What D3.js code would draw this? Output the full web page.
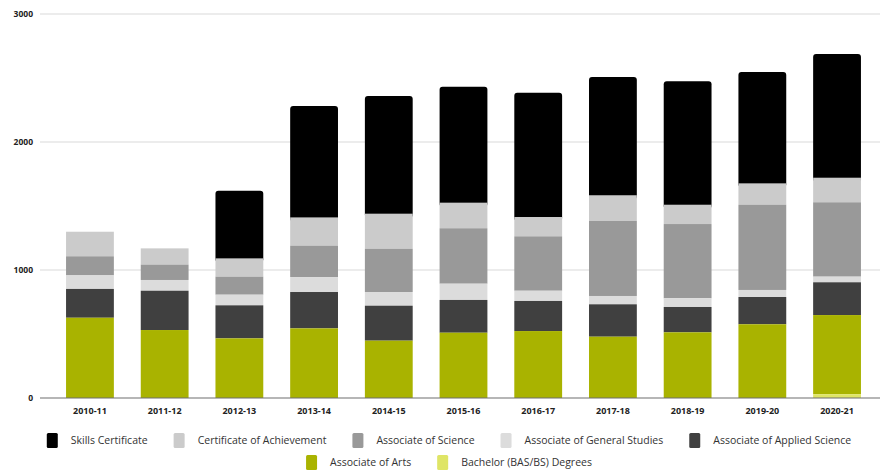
<!DOCTYPE html>
<html>
<head>
<meta charset="utf-8">
<script src="https://cdn.jsdelivr.net/npm/d3@7"></script>
<style>
  body { margin: 0; background: #fff; }
  svg { display: block; font-family: "Open Sans", sans-serif; }
</style>
</head>
<body>
<div id="chart"></div>
<script>
var years = ['2010-11', '2011-12', '2012-13', '2013-14', '2014-15', '2015-16',
             '2016-17', '2017-18', '2018-19', '2019-20', '2020-21'];

// bottom to top
var seriesNames = ['Bachelor (BAS/BS) Degrees', 'Associate of Arts', 'Associate of Applied Science',
                   'Associate of General Studies', 'Associate of Science',
                   'Certificate of Achievement', 'Skills Certificate'];

var bachelor    = [0, 0, 0, 0, 0, 0, 0, 0, 0, 0, 30];
var arts        = [627, 531, 466, 544, 448, 510, 523, 479, 513, 576, 618];
var applied     = [225, 307, 258, 284, 273, 256, 235, 253, 198, 213, 256];
var general     = [106, 84, 83, 117, 107, 127, 80, 65, 68, 55, 44];
var science     = [149, 120, 141, 245, 338, 433, 425, 586, 580, 666, 581];
var achievement = [192, 127, 143, 221, 274, 200, 151, 201, 151, 167, 192];
var skills      = [0, 0, 529, 870, 919, 906, 971, 924, 964, 870, 967];

var yTicks = [0, 1000, 2000, 3000];

// legend order as shown
var legendRows = [
  ['Skills Certificate', 'Certificate of Achievement', 'Associate of Science',
   'Associate of General Studies', 'Associate of Applied Science'],
  ['Associate of Arts', 'Bachelor (BAS/BS) Degrees']
];

var colors = {
  'Skills Certificate': '#000000',
  'Certificate of Achievement': '#cbcbcb',
  'Associate of Science': '#999999',
  'Associate of General Studies': '#dcdcdc',
  'Associate of Applied Science': '#404040',
  'Associate of Arts': '#a9b300',
  'Bachelor (BAS/BS) Degrees': '#dfe566'
};

var values = [bachelor, arts, applied, general, science, achievement, skills];
var table = years.map(function(y, i) {
    var row = { year: y };
    seriesNames.forEach(function(s, k) { row[s] = values[k][i]; });
    return row;
});

var width = 883, height = 470;
var svg = d3.select('#chart').append('svg')
    .attr('width', width)
    .attr('height', height);

var x = d3.scaleBand()
    .domain(years)
    .range([52.6, 874.4])
    .paddingInner(0.36)
    .paddingOuter(0.18);

var y = d3.scaleLinear()
    .domain([0, 3000])
    .range([398, 14]);

// grid
svg.append('g')
    .selectAll('line')
    .data(yTicks.filter(function(d) { return d > 0; }))
    .enter()
    .append('line')
    .attr('x1', 40).attr('x2', 880)
    .attr('y1', function(d) { return y(d); })
    .attr('y2', function(d) { return y(d); })
    .attr('stroke', '#d9d9d9')
    .attr('stroke-width', 1);

svg.append('g')
    .selectAll('text')
    .data(yTicks)
    .enter()
    .append('text')
    .attr('x', 33)
    .attr('y', function(d) { return y(d) + 3; })
    .attr('text-anchor', 'end')
    .attr('font-size', 8.5)
    .attr('font-weight', 'bold')
    .attr('fill', '#222')
    .text(function(d) { return d; });

var stacked = d3.stack().keys(seriesNames)(table);

// draw top series first so rounded top of skills tucks under lower segments
var layers = svg.append('g')
    .selectAll('g')
    .data(stacked.slice().reverse())
    .enter()
    .append('g')
    .attr('fill', function(d) { return colors[d.key]; });

layers.selectAll('rect')
    .data(function(d) { return d.map(function(p) { p.key = d.key; return p; }); })
    .enter()
    .append('rect')
    .attr('x', function(d) { return x(d.data.year); })
    .attr('width', x.bandwidth())
    .attr('y', function(d) { return y(d[1]); })
    .attr('height', function(d) {
        var h = y(d[0]) - y(d[1]);
        if (h <= 0) return 0;
        return d.key === 'Skills Certificate' ? h + 4 : h;
    })
    .attr('rx', function(d) { return d.key === 'Skills Certificate' ? 3 : 0; });

// baseline
svg.append('line')
    .attr('x1', 40).attr('x2', 880)
    .attr('y1', y(0)).attr('y2', y(0))
    .attr('stroke', '#6e6e6e')
    .attr('stroke-width', 1.2);

svg.append('g')
    .selectAll('text')
    .data(years)
    .enter()
    .append('text')
    .attr('x', function(d) { return x(d) + x.bandwidth() / 2; })
    .attr('y', 414)
    .attr('text-anchor', 'middle')
    .attr('font-size', 9)
    .attr('font-weight', 'bold')
    .attr('fill', '#222')
    .text(function(d) { return d; });

// legend
var rowY = [433, 455], swW = 11, swH = 15, txtGap = 13, itemGap = 26;
legendRows.forEach(function(names, r) {
    var row = svg.append('g');
    var cx = 0;
    names.forEach(function(n) {
        var item = row.append('g').attr('transform', 'translate(' + cx + ',0)');
        item.append('rect')
            .attr('width', swW).attr('height', swH)
            .attr('rx', 1.5)
            .attr('fill', colors[n]);
        var t = item.append('text')
            .attr('x', swW + txtGap)
            .attr('y', swH / 2 + 3.5)
            .attr('font-size', 10.5)
            .attr('fill', '#333')
            .text(n);
        cx += swW + txtGap + t.node().getComputedTextLength() + itemGap;
    });
    var w = cx - itemGap;
    row.attr('transform', 'translate(' + (449 - w / 2) + ',' + rowY[r] + ')');
});
</script>
</body>
</html>
